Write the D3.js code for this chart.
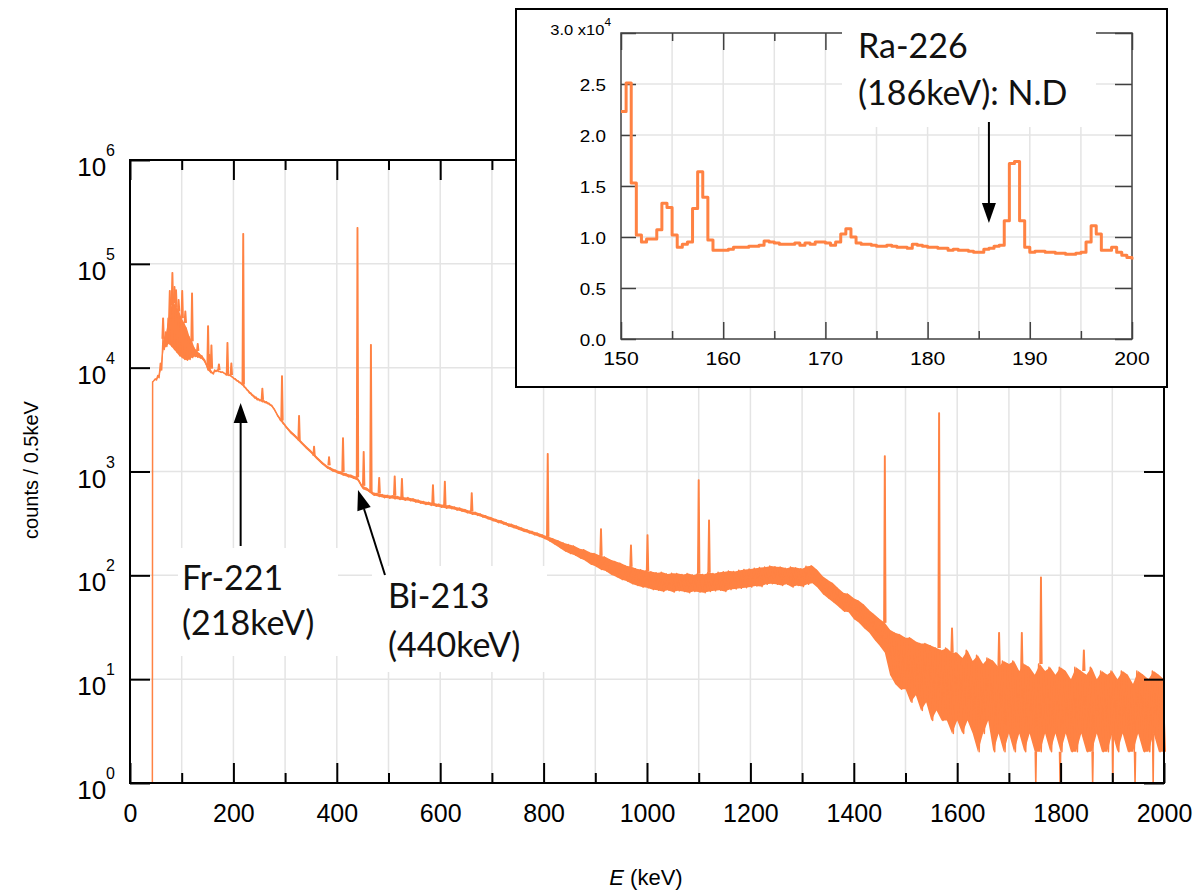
<!DOCTYPE html>
<html>
<head>
<meta charset="utf-8">
<script src="https://cdn.jsdelivr.net/npm/d3@7"></script>
<style>
  body { margin: 0; background: #fff; }
  svg { display: block; }
  .tick text { font-family: "Liberation Sans", Arial, sans-serif; fill: #000; }
</style>
</head>
<body>
<svg id="chart" width="1197" height="891"></svg>
<script>
// ---- main spectrum: 0.5 keV bins summarised as a low/high band ----
const binE = [43, 44, 50, 55, 60, 65, 70, 75, 80, 85, 90, 95, 100, 105, 110, 115, 120, 125, 130, 135, 140, 145,
  150, 155, 160, 165, 170, 175, 180, 185, 190, 195, 200, 205, 210, 215, 220, 225, 230, 235, 240, 245, 250, 255,
  260, 265, 270, 275, 280, 285, 290, 295, 300,
  310, 320, 330, 340, 350, 360, 370, 380, 390, 400, 410, 420, 430, 440, 450, 460, 470, 480, 490, 500,
  510, 520, 530, 540, 550, 560, 570, 580, 590, 600, 610, 620, 630, 640, 650, 660, 670, 680, 690, 700,
  710, 720, 730, 740, 750, 760, 770, 780, 790, 800, 810, 820, 830, 840, 850, 860, 870, 880, 890, 900,
  910, 920, 930, 940, 950, 960, 970, 980, 990, 1000, 1010, 1020, 1030, 1040, 1050, 1060, 1070, 1080, 1090, 1100,
  1110, 1120, 1130, 1140, 1150, 1160, 1170, 1180, 1190, 1200, 1210, 1220, 1230, 1240, 1250, 1260, 1270, 1280, 1290, 1300,
  1310, 1320, 1330, 1340, 1350, 1360, 1370, 1380, 1390, 1400, 1410, 1420, 1430, 1440, 1450, 1460, 1470, 1480, 1490, 1500,
  1510, 1520, 1530, 1540, 1550, 1560, 1570, 1580, 1590, 1600, 1610, 1620, 1630, 1640, 1650, 1660, 1670, 1680, 1690, 1700,
  1710, 1720, 1730, 1740, 1750, 1760, 1770, 1780, 1790, 1800, 1810, 1820, 1830, 1840, 1850, 1860, 1870, 1880, 1890, 1900,
  1910, 1920, 1930, 1940, 1950, 1960, 1970, 1980, 1990, 2000];

const binLo = [1, 7300, 7600, 8000, 9500, 15000, 16000, 17000, 16000, 15000, 14000, 13000, 12500, 12000, 11800, 12000, 12500, 12800, 12600, 12400, 12000, 11000,
  9500, 9000, 8700, 9200, 9200, 9000, 8900, 8500, 8400, 8200, 7800, 7500, 7200, 6900, 6500, 6100, 5700, 5400, 5100, 4900, 4800, 4700,
  4600, 4500, 4350, 4150, 3800, 3400, 3100, 2900, 2700,
  2340, 2100, 1870, 1670, 1500, 1330, 1190, 1080, 1010, 965, 925, 890, 860, 820, 680, 645, 590, 575, 560, 552,
  545, 538, 528, 522, 508, 495, 482, 472, 462, 452, 443, 438, 425, 415, 400, 387, 378, 364, 350, 336,
  322, 312, 298, 288, 277, 265, 256, 246, 237, 226, 214, 199, 185, 172, 162, 156, 146, 139, 128, 122,
  114, 110, 102, 97, 91, 88, 83, 80, 77, 76, 73, 72, 70, 72, 69, 71, 70, 68, 70, 69,
  68, 70, 71, 72, 70, 73, 74, 75, 76, 77, 79, 78, 82, 83, 82, 80, 82, 77, 80, 78,
  82, 84, 76, 66, 60, 55, 50, 45, 44, 38, 35, 31, 28, 24, 21, 18, 11, 9, 8, 8,
  6, 7, 5, 6, 4, 5, 4, 4, 3, 4, 3, 4, 3, 2, 3, 4, 2, 3, 2, 3,
  2, 3, 2, 3, 2, 2, 3, 2, 3, 2, 3, 2, 2, 3, 2, 2, 3, 2, 2, 3,
  2, 3, 2, 2, 3, 2, 2, 3, 2, 2];

const binHi = [1, 7300, 7800, 8400, 11000, 19000, 22000, 30000, 40000, 42000, 38000, 35000, 30000, 27000, 24000, 20000, 18000, 15500, 14500, 13600, 13000, 12000,
  10500, 9800, 9000, 9500, 9500, 9200, 9100, 8800, 8600, 8500, 8100, 7800, 7500, 7200, 6900, 6400, 6000, 5700, 5400, 5200, 5000, 4900,
  4800, 4700, 4550, 4350, 4000, 3600, 3300, 3100, 2850,
  2500, 2250, 2000, 1780, 1600, 1420, 1270, 1150, 1080, 1030, 990, 950, 920, 880, 730, 690, 630, 615, 600, 590,
  585, 575, 565, 560, 545, 530, 515, 505, 495, 485, 475, 470, 455, 445, 430, 415, 405, 390, 375, 360,
  345, 335, 320, 310, 298, 285, 275, 265, 255, 245, 235, 225, 215, 205, 198, 192, 180, 176, 166, 162,
  154, 150, 141, 136, 131, 124, 121, 116, 113, 110, 108, 106, 107, 103, 105, 104, 102, 104, 101, 104,
  102, 106, 104, 107, 108, 110, 109, 112, 114, 115, 117, 119, 120, 123, 121, 120, 117, 120, 118, 116,
  122, 124, 112, 98, 90, 84, 75, 68, 66, 60, 57, 52, 46, 42, 38, 35, 30, 28, 27, 25,
  25, 23, 22, 22, 21, 20, 19, 20, 18, 18, 16, 19, 15, 17, 14, 16, 15, 13, 15, 14,
  15, 12, 14, 13, 11, 14, 12, 13, 11, 13, 12, 10, 13, 12, 11, 13, 10, 12, 11, 12,
  10, 12, 11, 9, 12, 11, 10, 12, 11, 10];

// sharp gamma lines
const peakE = [64, 77, 82, 86, 89, 94, 101, 107, 120, 131, 151, 154, 157.5, 172, 188.5, 196, 219, 256, 294, 327,
  356, 385, 412, 440, 452, 466, 482, 512, 526, 586, 609, 661, 808, 911, 969, 1001, 1100, 1120, 1460, 1565,
  1590, 1681, 1725, 1762, 1845];
const peakCounts = [30000, 55000, 82000, 60000, 56000, 45000, 55000, 35000, 52000, 17000, 25200, 13300, 16400, 10800, 17400, 11000, 195000, 6300, 8300, 3440,
  1740, 1380, 2100, 222000, 1550, 16600, 870, 900, 850, 740, 800, 620, 1480, 280, 195, 245, 830, 340, 1410, 3650,
  31, 28, 28, 96, 19];

// empty bins (drop to the 10^0 axis)
const dipE = [1752, 1799, 1862, 1901, 1944, 1979];

// ---- inset: 150-200 keV, 0.5 keV steps, counts in units of 1e4 ----
const insetE = [150, 150.5, 151, 151.5, 152, 152.5, 153, 153.5, 154, 154.5, 155, 155.5, 156, 156.5, 157, 157.5, 158, 158.5, 159, 159.5,
  160, 160.5, 161, 161.5, 162, 162.5, 163, 163.5, 164, 164.5, 165, 165.5, 166, 166.5, 167, 167.5, 168, 168.5, 169, 169.5,
  170, 170.5, 171, 171.5, 172, 172.5, 173, 173.5, 174, 174.5, 175, 175.5, 176, 176.5, 177, 177.5, 178, 178.5, 179, 179.5,
  180, 180.5, 181, 181.5, 182, 182.5, 183, 183.5, 184, 184.5, 185, 185.5, 186, 186.5, 187, 187.5, 188, 188.5, 189, 189.5,
  190, 190.5, 191, 191.5, 192, 192.5, 193, 193.5, 194, 194.5, 195, 195.5, 196, 196.5, 197, 197.5, 198, 198.5, 199, 199.5, 200];
const insetCounts = [2.23, 2.51, 1.53, 1.02, 0.95, 0.98, 0.98, 1.07, 1.33, 1.29, 1.02, 0.90, 0.93, 0.95, 1.28, 1.64, 1.39, 0.97, 0.87, 0.87,
  0.87, 0.88, 0.90, 0.90, 0.90, 0.91, 0.91, 0.92, 0.96, 0.95, 0.94, 0.93, 0.93, 0.93, 0.94, 0.92, 0.94, 0.93, 0.95, 0.95,
  0.94, 0.92, 0.95, 1.03, 1.08, 1.00, 0.94, 0.93, 0.93, 0.92, 0.91, 0.91, 0.92, 0.91, 0.90, 0.90, 0.89, 0.93, 0.92, 0.91,
  0.90, 0.90, 0.89, 0.89, 0.87, 0.88, 0.87, 0.87, 0.86, 0.85, 0.85, 0.88, 0.89, 0.91, 0.92, 1.16, 1.72, 1.74, 1.16, 0.90,
  0.85, 0.86, 0.86, 0.85, 0.85, 0.84, 0.84, 0.83, 0.83, 0.84, 0.85, 0.95, 1.11, 1.03, 0.87, 0.87, 0.90, 0.85, 0.82, 0.80, 0.78];

// ---- ticks ----
const xMajor = [0, 200, 400, 600, 800, 1000, 1200, 1400, 1600, 1800, 2000];
const xMinor = [100, 300, 500, 700, 900, 1100, 1300, 1500, 1700, 1900];
const yDecades = [1, 10, 100, 1000, 10000, 100000, 1000000];
const yDecadeLabels = ["0", "1", "2", "3", "4", "5", "6"];
const insetXMajor = [150, 160, 170, 180, 190, 200];
const insetXMinor = [155, 165, 175, 185, 195];
const insetYTicks = [0, 0.5, 1.0, 1.5, 2.0, 2.5, 3.0];

const orange = "#ff8243";
const gridColor = "#e4e4e4";
const svg = d3.select("#chart");

// scales
const x = d3.scaleLinear().domain([0, 2000]).range([130, 1164]);
const y = d3.scaleLog().domain([1, 1e6]).range([783, 160]);

// grid
svg.append("g").selectAll("line")
  .data(xMajor.concat(xMinor).filter(d => d > 0 && d < 2000))
  .join("line")
  .attr("x1", d => x(d)).attr("x2", d => x(d))
  .attr("y1", y(1e6)).attr("y2", y(1))
  .attr("stroke", gridColor).attr("stroke-width", 1.5);
svg.append("g").selectAll("line")
  .data(yDecades.slice(1, -1))
  .join("line")
  .attr("x1", x(0)).attr("x2", x(2000))
  .attr("y1", d => y(d)).attr("y2", d => y(d))
  .attr("stroke", gridColor).attr("stroke-width", 1.5);

// white boxes behind the annotation text
[[178, 548, 160, 108], [372, 566, 175, 106]].forEach(b => {
  svg.append("rect").attr("x", b[0]).attr("y", b[1]).attr("width", b[2]).attr("height", b[3]).attr("fill", "#fff");
});

// spectrum: filled low/high band, plus each bin drawn as a stroke from its high to its low count
const bins = binE.map((e, i) => ({ E: e, lo: binLo[i], hi: binHi[i] }));
const band = d3.area()
  .x(d => x(d.E))
  .y0(d => y(d.lo))
  .y1(d => y(d.hi));
svg.append("path")
  .datum(bins)
  .attr("d", band)
  .attr("fill", orange);

const pts = [];
bins.forEach((b, i) => {
  const prev = i > 0 ? b.E - bins[i - 1].E : Infinity;
  const next = i < bins.length - 1 ? bins[i + 1].E - b.E : Infinity;
  const w = Math.min(prev, next) / 4;
  pts.push([b.E - w, b.hi], [b.E + w, b.lo]);
});
const specLine = d3.line().x(d => x(d[0])).y(d => y(d[1]));
svg.append("path")
  .attr("d", specLine(pts))
  .attr("fill", "none")
  .attr("stroke", orange)
  .attr("stroke-width", 1.5)
  .attr("stroke-linejoin", "round");

const nearestBin = e => bins[d3.leastIndex(bins, b => Math.abs(b.E - e))];

// peaks
peakE.forEach((e, i) => {
  const base = nearestBin(e).hi;
  svg.append("path")
    .attr("d", specLine([[e - 1.8, base], [e - 0.4, peakCounts[i]], [e + 0.4, peakCounts[i]], [e + 1.8, base]]))
    .attr("fill", orange)
    .attr("stroke", orange)
    .attr("stroke-width", 1.5)
    .attr("stroke-linejoin", "round");
});

// dips to zero counts
dipE.forEach(e => {
  const base = nearestBin(e).lo;
  svg.append("path")
    .attr("d", specLine([[e - 1, base], [e, 1], [e + 1, base]]))
    .attr("fill", "none")
    .attr("stroke", orange)
    .attr("stroke-width", 1.6);
});

// axes (ticks point inward)
const addAxis = (axis, tx, ty) => {
  const g = svg.append("g").attr("transform", `translate(${tx},${ty})`).call(axis);
  g.select(".domain").remove();
  g.selectAll(".tick line").attr("stroke", "#000").attr("stroke-width", 2);
  return g;
};
const xAxis = addAxis(d3.axisBottom(x).tickValues(xMajor).tickSize(-20).tickPadding(21).tickFormat(d3.format("d")), 0, 783);
xAxis.selectAll(".tick text").attr("font-size", 25);
addAxis(d3.axisBottom(x).tickValues(xMinor).tickSize(-10).tickFormat(""), 0, 783);
addAxis(d3.axisTop(x).tickValues(xMajor).tickSize(-20).tickFormat(""), 0, 160);
addAxis(d3.axisTop(x).tickValues(xMinor).tickSize(-10).tickFormat(""), 0, 160);
addAxis(d3.axisLeft(y).tickValues(yDecades).tickSize(-20).tickFormat(""), 130, 0);
addAxis(d3.axisRight(y).tickValues(yDecades).tickSize(-20).tickFormat(""), 1164, 0);

// log labels 10^n
yDecades.forEach((d, i) => {
  const t = svg.append("text")
    .attr("x", 115).attr("y", y(d) + 16)
    .attr("text-anchor", "end")
    .attr("font-family", "Liberation Sans, Arial, sans-serif")
    .attr("font-size", 26);
  t.append("tspan").text("10");
  t.append("tspan").attr("dy", -20).attr("font-size", 16).text(yDecadeLabels[i]);
});

// frame
svg.append("rect")
  .attr("x", x(0)).attr("y", y(1e6))
  .attr("width", x(2000) - x(0)).attr("height", y(1) - y(1e6))
  .attr("fill", "none").attr("stroke", "#000").attr("stroke-width", 2);

// axis titles
svg.append("text")
  .attr("transform", "translate(38,470) rotate(-90)")
  .attr("text-anchor", "middle")
  .attr("font-family", "Liberation Sans, Arial, sans-serif")
  .attr("font-size", 20)
  .text("counts / 0.5keV");
const xt = svg.append("text")
  .attr("x", 646).attr("y", 885)
  .attr("text-anchor", "middle")
  .attr("font-family", "Liberation Sans, Arial, sans-serif")
  .attr("font-size", 22);
xt.append("tspan").attr("font-style", "italic").text("E");
xt.append("tspan").text(" (keV)");

// arrows
const arrow = (x1, y1, x2, y2) => {
  const a = Math.atan2(y2 - y1, x2 - x1), len = 20, hw = 7;
  const bx = x2 - len * Math.cos(a), by = y2 - len * Math.sin(a);
  svg.append("line").attr("x1", x1).attr("y1", y1).attr("x2", bx).attr("y2", by)
    .attr("stroke", "#000").attr("stroke-width", 2);
  svg.append("path")
    .attr("d", `M${x2},${y2}L${bx - hw * Math.sin(a)},${by + hw * Math.cos(a)}L${bx + hw * Math.sin(a)},${by - hw * Math.cos(a)}Z`)
    .attr("fill", "#000");
};
const label = (tx, lines, lh) => {
  lines.forEach((s, i) => {
    svg.append("text").attr("x", tx[0]).attr("y", tx[1] + i * lh)
      .attr("font-family", "Lato, 'Open Sans', sans-serif")
      .attr("font-size", 34)
      .attr("fill", "#111")
      .text(s);
  });
};
arrow(x(214), 546, x(214), 403);
label([182, 590], ["Fr-221", "(218keV)"], 45);
arrow(385, 575, x(441), 490);
label([388, 608], ["Bi-213", "(440keV)"], 49);

// ---- inset ----
const ix = d3.scaleLinear().domain([150, 200]).range([621, 1132]);
const iy = d3.scaleLinear().domain([0, 3]).range([339, 33]);
const axisGray = "#404040";

svg.append("rect").attr("x", 516).attr("y", 9).attr("width", 651).attr("height", 378)
  .attr("fill", "#fff").attr("stroke", "#000").attr("stroke-width", 2);

svg.append("g").selectAll("line")
  .data(insetXMajor.concat(insetXMinor).filter(d => d > 150 && d < 200))
  .join("line")
  .attr("x1", d => ix(d)).attr("x2", d => ix(d))
  .attr("y1", iy(3)).attr("y2", iy(0))
  .attr("stroke", gridColor).attr("stroke-width", 1.5);
svg.append("g").selectAll("line")
  .data(insetYTicks.filter(d => d > 0 && d < 3))
  .join("line")
  .attr("x1", ix(150)).attr("x2", ix(200))
  .attr("y1", d => iy(d)).attr("y2", d => iy(d))
  .attr("stroke", gridColor).attr("stroke-width", 1.5);

const addInsetAxis = (axis, tx, ty) => {
  const g = svg.append("g").attr("transform", `translate(${tx},${ty})`).call(axis);
  g.select(".domain").remove();
  g.selectAll(".tick line").attr("stroke", axisGray).attr("stroke-width", 1.5);
  return g;
};
addInsetAxis(d3.axisBottom(ix).tickValues(insetXMajor).tickSize(-17).tickFormat(""), 0, iy(0));
addInsetAxis(d3.axisBottom(ix).tickValues(insetXMinor).tickSize(-8).tickFormat(""), 0, iy(0));
addInsetAxis(d3.axisTop(ix).tickValues(insetXMajor).tickSize(-17).tickFormat(""), 0, iy(3));
addInsetAxis(d3.axisTop(ix).tickValues(insetXMinor).tickSize(-8).tickFormat(""), 0, iy(3));
addInsetAxis(d3.axisLeft(iy).tickValues(insetYTicks).tickSize(-15).tickFormat(""), ix(150), 0);
addInsetAxis(d3.axisRight(iy).tickValues(insetYTicks).tickSize(-17).tickFormat(""), ix(200), 0);

svg.append("rect")
  .attr("x", ix(150)).attr("y", iy(3))
  .attr("width", ix(200) - ix(150)).attr("height", iy(0) - iy(3))
  .attr("fill", "none").attr("stroke", axisGray).attr("stroke-width", 1.5);

// inset tick labels (the inset is stretched a little sideways)
const insetText = (tx, ty, anchor, size) => svg.append("text")
  .attr("transform", `translate(${tx},${ty}) scale(1.18,1)`)
  .attr("text-anchor", anchor)
  .attr("font-family", "Liberation Sans, Arial, sans-serif")
  .attr("font-size", size);
insetXMajor.forEach(d => insetText(ix(d), 365, "middle", 18).text(d));
insetYTicks.slice(0, -1).forEach(d => insetText(606, iy(d) + 7, "end", 16).text(d.toFixed(1)));
const topLab = insetText(611, 35, "end", 14);
topLab.append("tspan").text(insetYTicks[6].toFixed(1) + " x10");
topLab.append("tspan").attr("dy", -9).attr("font-size", 10).text("4");

// inset spectrum
const stepLine = d3.line()
  .x(d => ix(d[0]))
  .y(d => iy(d[1]))
  .curve(d3.curveStepAfter);
svg.append("path")
  .datum(insetE.map((e, i) => [e, insetCounts[i]]))
  .attr("d", stepLine)
  .attr("fill", "none")
  .attr("stroke", orange)
  .attr("stroke-width", 3)
  .attr("stroke-linejoin", "round");

// Ra-226 note
svg.append("rect").attr("x", 842).attr("y", 14).attr("width", 254).attr("height", 113).attr("fill", "#fff");
label([858, 58], ["Ra-226", "(186keV): N.D"], 47);
arrow(ix(186), 122, ix(186), 223);
</script>
</body>
</html>
